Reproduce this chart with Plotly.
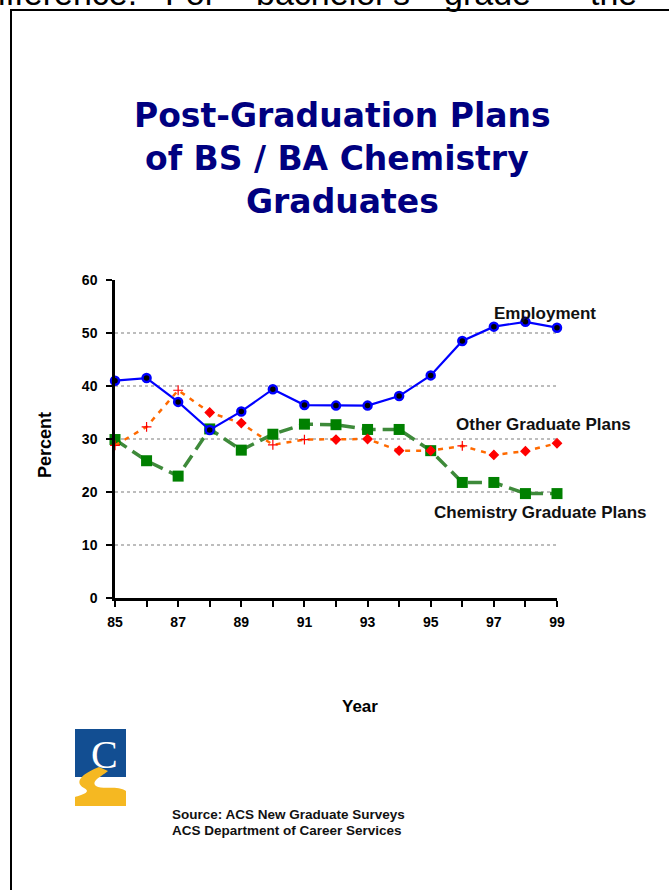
import plotly.graph_objects as go

# ---------------- data ----------------
years = [85, 86, 87, 88, 89, 90, 91, 92, 93, 94, 95, 96, 97, 98, 99]
employment = [41.0, 41.5, 37.0, 31.7, 35.2, 39.4, 36.4, 36.3, 36.3, 38.1, 42.0, 48.5, 51.2, 52.1, 51.0]
other_grad = [28.8, 32.3, 39.2, 35.0, 33.0, 28.9, 29.9, 29.9, 30.0, 27.8, 27.8, 28.7, 27.0, 27.7, 29.2]
chem_grad = [29.9, 25.9, 23.0, 31.9, 27.9, 30.9, 32.8, 32.7, 31.8, 31.8, 27.8, 21.8, 21.8, 19.7, 19.7]
x_tick_labels = ["85", "87", "89", "91", "93", "95", "97", "99"]
y_tick_labels = ["0", "10", "20", "30", "40", "50", "60"]

title_lines = ["Post-Graduation Plans", "of BS / BA Chemistry ", "Graduates"]
series_labels = ["Employment", "Other Graduate Plans", "Chemistry Graduate Plans"]
source_lines = ["Source: ACS New Graduate Surveys", "ACS Department of Career Services"]
top_words = ["difference.", "For", "bachelor's", "grade", "the"]

# marker style per point for the "other" series (styling only)
other_symbols = ["cross-thin", "cross-thin", "cross-thin", "diamond", "diamond", "cross-thin",
                 "cross-thin", "diamond", "diamond", "diamond", "diamond", "cross-thin",
                 "diamond", "diamond", "diamond"]

# ---------------- geometry helpers ----------------
W, H = 669, 890
X0, X1 = 115, 557   # plot area left/right (px)
YB, YT = 598, 280   # plot area bottom/top (px)


def px_x(p):
    return (p - X0) / (X1 - X0)


def px_y(p):
    return (YB - p) / (YB - YT)


def path_px(points):
    parts = []
    for cmd, pts in points:
        coords = " ".join(f"{px_x(x):.5f},{px_y(y):.5f}" for x, y in pts)
        parts.append(f"{cmd} {coords}".strip())
    return " ".join(parts)


fig = go.Figure()

fig.add_trace(go.Scatter(
    x=years, y=chem_grad, mode="lines+markers", name=series_labels[2],
    line=dict(color="#3E8A3A", width=3.5, dash="14px,7px"),
    marker=dict(symbol="square", size=11, color="#008000"),
    cliponaxis=False, showlegend=False))

fig.add_trace(go.Scatter(
    x=years, y=other_grad, mode="lines+markers", name=series_labels[1],
    line=dict(color="#FF6A00", width=2.5, dash="5px,6px"),
    marker=dict(symbol=other_symbols, size=7, color="#FF0000",
                line=dict(color="#FF0000", width=1.2)),
    cliponaxis=False, showlegend=False))

fig.add_trace(go.Scatter(
    x=years, y=employment, mode="lines+markers", name=series_labels[0],
    line=dict(color="#0000FF", width=2.2),
    marker=dict(symbol="circle", size=8, color="#000000",
                line=dict(color="#0000FF", width=2.5)),
    cliponaxis=False, showlegend=False))

bold = "Liberation Sans, Arial, sans-serif"
tick_font = dict(family=bold, size=14, color="#000000", weight="bold")

fig.update_xaxes(
    range=[85, 99], tickmode="array",
    tickvals=[int(v) for v in x_tick_labels], ticktext=x_tick_labels,
    ticks="outside", ticklen=6, tickwidth=2, tickcolor="#000000",
    minor=dict(dtick=1, tick0=85, ticks="outside", ticklen=6, tickwidth=2, tickcolor="#000000"),
    showline=True, linecolor="#000000", linewidth=2.5,
    showgrid=False, zeroline=False,
    tickfont=tick_font, ticklabelstandoff=3)

fig.update_yaxes(
    range=[0, 60], tickmode="array",
    tickvals=[int(v) for v in y_tick_labels], ticktext=y_tick_labels,
    ticks="outside", ticklen=6, tickwidth=2, tickcolor="#000000",
    showline=True, linecolor="#000000", linewidth=2.5,
    showgrid=True, gridcolor="#BDBDBD", gridwidth=1.5, griddash="dot",
    zeroline=False, tickfont=tick_font, ticklabelstandoff=6)

annotations = []

# title
for line, yc in zip(title_lines, [116, 158, 201]):
    annotations.append(dict(
        text=f"<b>{line}</b>", x=px_x(342), y=px_y(yc), xref="paper", yref="paper",
        xanchor="center", yanchor="middle", showarrow=False,
        font=dict(family="DejaVu Sans, Verdana, sans-serif", size=33, color="#000080")))

# series labels
for lab, (xc, yc) in zip(series_labels, [(545, 313), (543, 424), (540, 512)]):
    annotations.append(dict(
        text=f"<b>{lab}</b>", x=px_x(xc), y=px_y(yc), xref="paper", yref="paper",
        xanchor="center", yanchor="middle", showarrow=False,
        font=dict(family=bold, size=17, color="#111111")))

# axis titles
annotations.append(dict(
    text="<b>Percent</b>", x=px_x(45), y=px_y(445), xref="paper", yref="paper",
    xanchor="center", yanchor="middle", showarrow=False, textangle=-90,
    font=dict(family=bold, size=18, color="#000000")))
annotations.append(dict(
    text="<b>Year</b>", x=px_x(360), y=px_y(706), xref="paper", yref="paper",
    xanchor="center", yanchor="middle", showarrow=False,
    font=dict(family=bold, size=17, color="#000000")))

# source
for line, yc in zip(source_lines, [814, 830]):
    annotations.append(dict(
        text=f"<b>{line}</b>", x=px_x(170), y=px_y(yc), xref="paper", yref="paper",
        xanchor="left", yanchor="middle", showarrow=False,
        font=dict(family=bold, size=13.5, color="#111111")))

# cut-off body text at very top
for word, xc in zip(top_words, [58, 190, 333, 487, 613]):
    annotations.append(dict(
        text=word, x=px_x(xc), y=px_y(-7), xref="paper", yref="paper",
        xanchor="center", yanchor="middle", showarrow=False,
        font=dict(family=bold, size=34, color="#000000")))

# logo "C"
annotations.append(dict(
    text="C", x=px_x(104), y=px_y(754), xref="paper", yref="paper",
    xanchor="center", yanchor="middle", showarrow=False,
    font=dict(family="Liberation Serif, Times New Roman, serif", size=40, color="#FFFFFF")))

shapes = []
# page frame (left and top edges)
shapes.append(dict(type="line", xref="paper", yref="paper",
                   x0=px_x(11), y0=px_y(890), x1=px_x(11), y1=px_y(10),
                   line=dict(color="#000000", width=2)))
shapes.append(dict(type="line", xref="paper", yref="paper",
                   x0=px_x(10), y0=px_y(10), x1=px_x(669), y1=px_y(10),
                   line=dict(color="#000000", width=2)))
# logo: blue block
shapes.append(dict(type="rect", xref="paper", yref="paper", layer="below",
                   x0=px_x(75), y0=px_y(777), x1=px_x(126), y1=px_y(729),
                   fillcolor="#124E92", line=dict(width=0)))
# logo: yellow S ribbon
s_path = path_px([
    ("M", [(99, 767)]),
    ("C", [(86, 772), (72, 781), (84, 788)]),
    ("C", [(92, 792), (82, 795), (75, 797)]),
    ("L", [(75, 806)]),
    ("L", [(126, 806)]),
    ("L", [(126, 791)]),
    ("C", [(118, 785), (102, 790), (96, 786)]),
    ("C", [(90, 781), (104, 775), (108, 771)]),
    ("Z", []),
])
shapes.append(dict(type="path", xref="paper", yref="paper", path=s_path,
                   fillcolor="#F5B822", line=dict(width=0)))

fig.update_layout(
    width=W, height=H, autosize=False,
    margin=dict(l=X0, r=W - X1, t=YT, b=H - YB, pad=0),
    paper_bgcolor="#FFFFFF", plot_bgcolor="#FFFFFF",
    showlegend=False, annotations=annotations, shapes=shapes,
    font=dict(family=bold))

fig.write_html("out.html",
               config={"displayModeBar": False},
               post_script="document.body.style.margin='0';document.body.style.overflow='hidden';")
